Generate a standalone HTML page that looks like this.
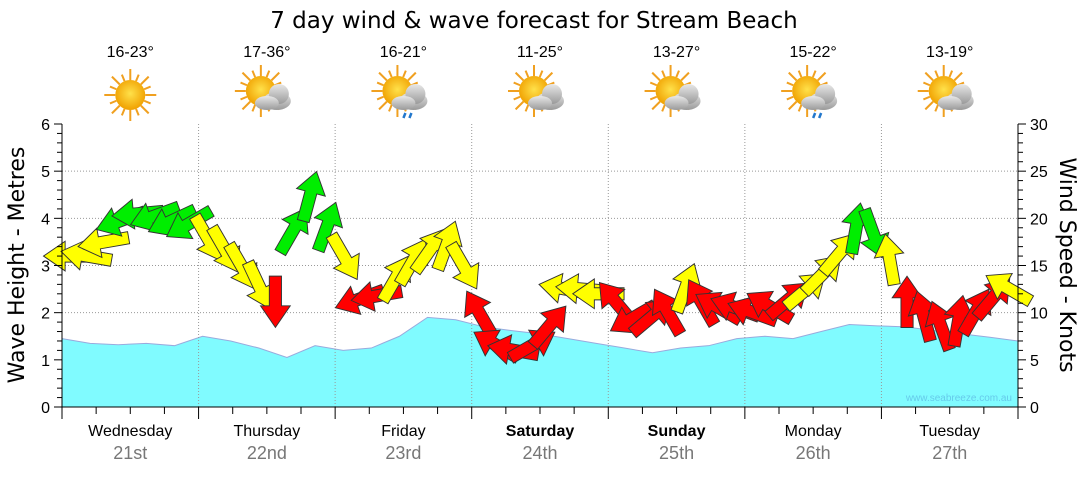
<!DOCTYPE html>
<html><head><meta charset="utf-8"><style>
body{margin:0;background:#fff;font-family:"Liberation Sans",sans-serif}
svg text{font-family:"Liberation Sans",sans-serif}
</style></head><body>
<svg id="c" width="1080" height="475" viewBox="0 0 1080 475">
<defs>
<radialGradient id="sun" cx="50%" cy="45%" r="55%"><stop offset="0" stop-color="#ffe14a"/><stop offset="1" stop-color="#f0a000"/></radialGradient>
<linearGradient id="cloud" x1="0" y1="0" x2="0" y2="1"><stop offset="0" stop-color="#e8e8e8"/><stop offset="1" stop-color="#9a9a9a"/></linearGradient>
</defs>
<text x="534" y="28" font-size="23" text-anchor="middle" fill="#000" style="font-family:'DejaVu Sans',sans-serif">7 day wind &amp; wave forecast for Stream Beach</text>
<g id="grid"></g><g id="wave"></g><g id="arrows"></g><g id="axes"></g><g id="icons"></g>
<text x="1012" y="401" font-size="10" fill="#5ad" text-anchor="end" opacity="0.6">www.seabreeze.com.au</text>
<text transform="translate(24,265) rotate(-90)" font-size="22" text-anchor="middle" style="font-family:'DejaVu Sans',sans-serif">Wave Height - Metres</text>
<text transform="translate(1060,265) rotate(90)" font-size="22" text-anchor="middle" style="font-family:'DejaVu Sans',sans-serif">Wind Speed - Knots</text>
</svg>
<script>
const days=["Wednesday","Thursday","Friday","Saturday","Sunday","Monday","Tuesday"];
const dates=["21st","22nd","23rd","24th","25th","26th","27th"];
const temps=["16-23°","17-36°","16-21°","11-25°","13-27°","15-22°","13-19°"];
const weather=["sun","cloud","rain","cloud","cloud","rain","cloud"];
const waveTicks=[0,1,2,3,4,5,6];
const windTicks=[0,5,10,15,20,25,30];
const waveHeights=[1.45,1.35,1.32,1.35,1.3,1.5,1.4,1.25,1.05,1.3,1.2,1.25,1.5,1.9,1.85,1.7,1.62,1.55,1.45,1.35,1.25,1.15,1.25,1.3,1.45,1.5,1.45,1.6,1.75,1.72,1.7,1.62,1.55,1.48,1.4];
const windSpeeds=[16,16,17.5,19.8,20.5,20.3,19.8,19.5,
18,16.8,15,13,11.3,18.6,22.2,19,
16,11.5,11.8,13.5,15.3,16.5,17,15,
9.8,6.5,6,6.5,8.5,12.5,12.5,12,
11,9.5,9.5,10,12.5,11,10.5,10.5,
10,10.6,11.3,12.3,14,16.2,18.8,18.5,
15.5,11,9.5,8.5,9,10,11.5,12.5];
const windDirs=[-90,-80,-100,-110,-95,-110,-115,-120,
150,150,150,155,180,30,15,20,
150,-110,-100,30,30,35,20,150,
-30,-60,-80,60,40,-80,-85,-90,
-40,-120,50,-30,20,-30,-60,-70,
-70,-60,50,50,45,40,10,160,
-10,0,-15,-20,10,30,40,-60];
const X0=62,X1=1018,Y0=407,Y1=124;
const xDay=d=>X0+(X1-X0)*d/7;
const yWave=v=>Y0-(Y0-Y1)*v/6;
const yWind=v=>Y0-(Y0-Y1)*v/30;
const NS="http://www.w3.org/2000/svg";
function mk(tag,attrs,parent){const e=document.createElementNS(NS,tag);for(const k in attrs)e.setAttribute(k,attrs[k]);parent.appendChild(e);return e;}
const grid=document.getElementById('grid'),axes=document.getElementById('axes'),wave=document.getElementById('wave'),arr=document.getElementById('arrows'),icons=document.getElementById('icons');
waveTicks.forEach(t=>{
 if(t>0&&t<6){const l=mk('line',{x1:X0,x2:X1,y1:yWave(t),y2:yWave(t),stroke:'#999','stroke-dasharray':'1,2'},grid);
 }
 const tx=mk('text',{x:50,y:yWave(t)+6,'font-size':16,'text-anchor':'end'},axes);tx.textContent=t;
 
});
for(let i=0;i<=30;i++){const y=yWave(i/5);mk('line',{x1:X0-(i%5==0?8:5),x2:X0,y1:y,y2:y,stroke:'#000'},axes);mk('line',{x1:X1,x2:X1+(i%5==0?8:5),y1:y,y2:y,stroke:'#000'},axes);}
windTicks.forEach(t=>{const tx=mk('text',{x:1030,y:yWind(t)+6,'font-size':16},axes);tx.textContent=t;
 });
let d=`M${X0},${Y0}`;waveHeights.forEach((v,i)=>{d+=` L${X0+(X1-X0)*i/(waveHeights.length-1)},${yWave(v)}`});d+=` L${X1},${Y0} Z`;
const wa=mk('path',{d:d,fill:'#80fbff',stroke:'#9ad','stroke-width':1},wave);

for(let i=1;i<7;i++){const l=mk('line',{x1:xDay(i),x2:xDay(i),y1:Y1,y2:Y0,stroke:'#999','stroke-dasharray':'1,2'},wave);
 }
mk('line',{x1:X0,x2:X0,y1:Y1,y2:Y0,stroke:'#000'},axes);mk('line',{x1:X1,x2:X1,y1:Y1,y2:Y0,stroke:'#000'},axes);mk('line',{x1:X0,x2:X1,y1:Y0,y2:Y0,stroke:'#000'},axes);
for(let i=0;i<=28;i++){const x=X0+(X1-X0)*i/28;mk('line',{x1:x,x2:x,y1:Y0,y2:Y0+(i%4==0?12:7),stroke:'#000'},axes);}
days.forEach((n,i)=>{const cx=xDay(i+0.5);const bold=(i==3||i==4)?'bold':'normal';
 const a=mk('text',{x:cx,y:436,'font-size':16,'text-anchor':'middle','font-weight':bold},axes);a.textContent=n;
 
 const b=mk('text',{x:cx,y:459,'font-size':18,'text-anchor':'middle',fill:'#777'},axes);b.textContent=dates[i];
 
 const t=mk('text',{x:cx,y:57,'font-size':16,'text-anchor':'middle'},icons);t.textContent=temps[i];
 
 const g=mk('g',{transform:`translate(${cx},95)`},icons);
 
 const sx=weather[i]=='sun'?0:-6,sy=weather[i]=='sun'?0:-4;
 for(let r=0;r<16;r++){const an=r*Math.PI/8;mk('line',{x1:sx+Math.cos(an)*15,y1:sy+Math.sin(an)*15,x2:sx+Math.cos(an)*(r%2?22:26),y2:sy+Math.sin(an)*(r%2?22:26),stroke:'#f0a020','stroke-width':2},g);}
 mk('circle',{cx:sx,cy:sy,r:15,fill:'url(#sun)'},g);
 if(weather[i]!='sun'){mk('ellipse',{cx:10,cy:6,rx:14,ry:9,fill:'url(#cloud)'},g);mk('circle',{cx:12,cy:-1,r:10,fill:'url(#cloud)'},g);mk('ellipse',{cx:0,cy:8,rx:12,ry:7,fill:'url(#cloud)'},g);}
 if(weather[i]=='rain'){mk('path',{d:'M2,18 l-2,5 M8,18 l-2,5',stroke:'#27c','stroke-width':2.5},g);}
});
const shape="M0,-20 L11,-4 L4.5,-4 L4.5,18 L-4.5,18 L-4.5,-4 L-11,-4 Z";
windSpeeds.forEach((s,i)=>{const x=X0+(X1-X0)*(i+0.5)/windSpeeds.length,y=yWind(s);
 const col=s<12?'#ff0000':(s<18.5?'#ffff00':'#00ee00');
 const p=mk('path',{d:shape,transform:`translate(${x},${y}) rotate(${windDirs[i]}) scale(1.35)`,fill:col,stroke:'#333','stroke-width':0.7},arr);
 });
</script>
</body></html>
